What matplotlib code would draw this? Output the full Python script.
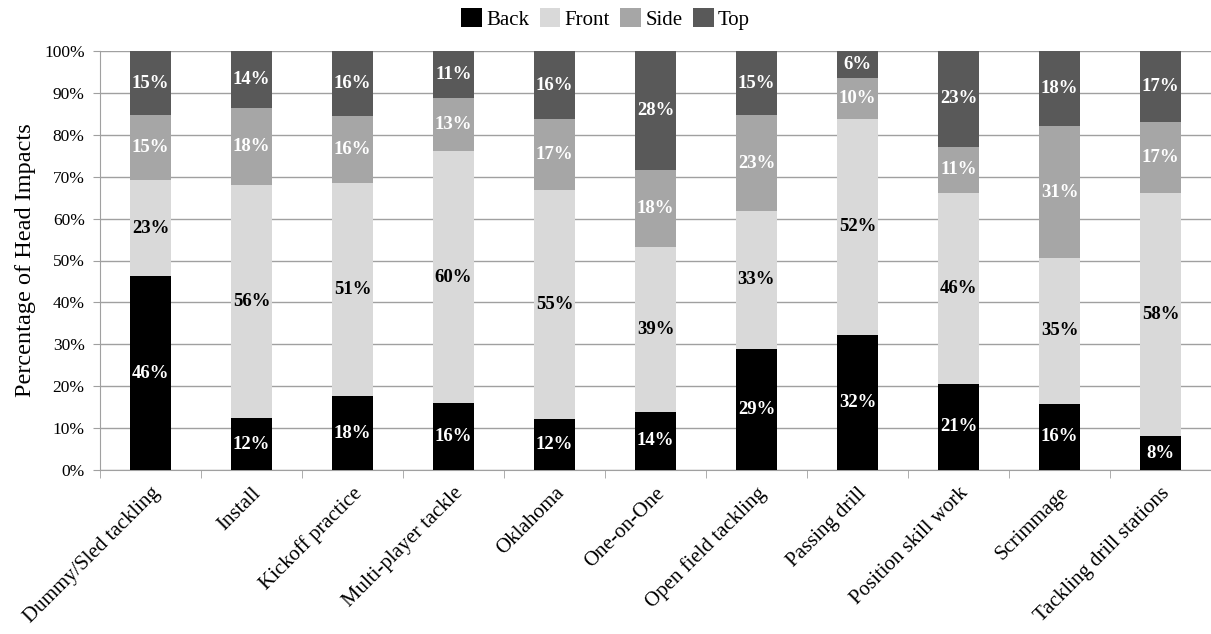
import matplotlib
matplotlib.use("Agg")
import matplotlib.pyplot as plt
import numpy as np

categories = ["Dummy/Sled tackling", "Install", "Kickoff practice", "Multi-player tackle",
              "Oklahoma", "One-on-One", "Open field tackling", "Passing drill",
              "Position skill work", "Scrimmage", "Tackling drill stations"]
back = [46.2, 12.4, 17.6, 15.9, 12.2, 13.9, 28.9, 32.2, 20.6, 15.8, 8.1]
front = [23.1, 55.6, 51.0, 60.3, 54.7, 39.3, 32.9, 51.6, 45.6, 34.8, 58.0]
side = [15.4, 18.4, 15.8, 12.7, 16.8, 18.4, 22.9, 9.8, 11.0, 31.4, 17.0]
top = [15.3, 13.6, 15.6, 11.1, 16.3, 28.4, 15.3, 6.4, 22.8, 18.0, 16.9]
series_names = ["Back", "Front", "Side", "Top"]
y_ticks = [0, 10, 20, 30, 40, 50, 60, 70, 80, 90, 100]

plt.rcParams["font.family"] = ["Liberation Serif", "DejaVu Serif"]

fig = plt.figure(figsize=(12.11, 6.34), dpi=100)
ax = fig.add_axes([100 / 1211, (634 - 470) / 634, 1 - 100 / 1211, (470 - 51) / 634])

colors = ["#000000", "#d9d9d9", "#a6a6a6", "#595959"]
text_colors = ["white", "black", "white", "white"]
x = np.arange(len(categories))
bottom = np.zeros(len(categories))
for name, vals, c, tc in zip(series_names, [back, front, side, top], colors, text_colors):
    vals = np.array(vals)
    ax.bar(x, vals, 0.4, bottom=bottom, color=c, label=name, zorder=3)
    for xi, b, v in zip(x, bottom, vals):
        ax.text(xi, b + v / 2, f"{v:.0f}%", ha="center", va="center",
                color=tc, fontsize=13.5, fontweight="bold", zorder=4)
    bottom += vals

ax.set_xlim(-0.5, len(categories) - 0.5)
ax.set_ylim(0, 100)
ax.set_yticks(y_ticks)
ax.set_yticklabels([f"{t}%" for t in y_ticks], fontsize=12.5)
ax.yaxis.grid(True, color="#a0a0a0", linewidth=1.0, zorder=0)
ax.set_axisbelow(True)

ax.set_xticks(x)
ax.set_xticklabels(categories, rotation=45, ha="right", va="top",
                   rotation_mode="anchor", fontsize=15)
ax.tick_params(axis="x", which="major", length=0, pad=10)
ax.set_xticks(np.arange(-0.5, len(categories)), minor=True)
ax.tick_params(axis="x", which="minor", length=6, color="#a0a0a0", direction="out")
ax.tick_params(axis="y", length=5, color="#a0a0a0", pad=6)

for s in ["top", "right"]:
    ax.spines[s].set_visible(False)
for s in ["left", "bottom"]:
    ax.spines[s].set_color("#a0a0a0")

ax.set_ylabel("Percentage of Head Impacts", fontsize=17.5, labelpad=6)

fig.legend(loc="upper center", bbox_to_anchor=(0.5, 1.0), ncol=4,
           frameon=False, fontsize=15, handlelength=1.0, handleheight=1.0,
           handletextpad=0.2, columnspacing=0.5, borderaxespad=0.0)

fig.savefig("out.png", dpi=100)
